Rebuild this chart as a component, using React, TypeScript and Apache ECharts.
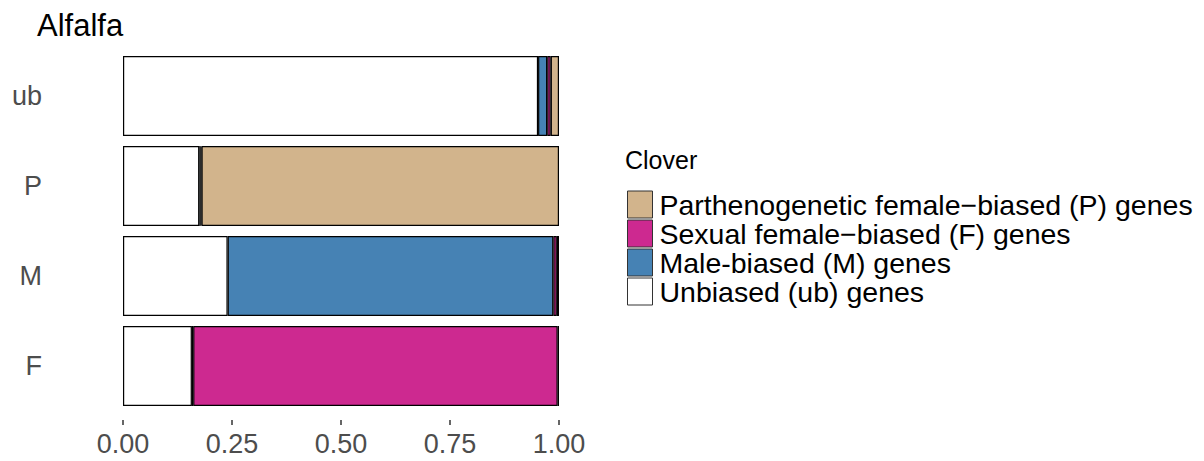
import React, { useEffect, useRef } from "react";
import * as echarts from "echarts";

const categories = ["ub", "P", "M", "F"];
const seriesNames = [
  "Unbiased (ub) genes",
  "Male-biased (M) genes",
  "Sexual female\u2212biased (F) genes",
  "Parthenogenetic female\u2212biased (P) genes",
];
// proportions per category (ub, P, M, F rows)
const ubValues = [0.952, 0.175, 0.24, 0.158];
const mValues = [0.021, 0.003, 0.747, 0.003];
const fValues = [0.008, 0.002, 0.008, 0.836];
const pValues = [0.019, 0.82, 0.005, 0.003];
const colors = ["#FFFFFF", "#4682B4", "#CD2990", "#D2B48C"];
const legendOrder = [3, 2, 1, 0];
const xTicks = [0, 0.25, 0.5, 0.75, 1];

export default function App() {
  const ref = useRef<HTMLDivElement>(null);
  useEffect(() => {
    if (!ref.current) return;
    const chart = echarts.init(ref.current, null, { renderer: "svg" });
    const values = [ubValues, mValues, fValues, pValues];
    chart.setOption({
      animation: false,
      backgroundColor: "#FFFFFF",
      textStyle: { fontFamily: "Liberation Sans, Arial, sans-serif" },
      title: [
        {
          text: "Alfalfa",
          left: 24,
          top: -3,
          textStyle: { fontSize: 31, fontWeight: "normal", color: "#000000" },
        },
        {
          text: "Clover",
          left: 612,
          top: 134,
          textStyle: { fontSize: 25, fontWeight: "normal", color: "#000000" },
        },
      ],
      legend: {
        orient: "vertical",
        left: 614,
        top: 177,
        itemWidth: 25,
        itemHeight: 27,
        itemGap: 0,
        icon: "rect",
        data: legendOrder.map((i) => seriesNames[i]),
        itemStyle: { borderColor: "#333333", borderWidth: 1 },
        textStyle: {
          fontSize: 28.5,
          lineHeight: 27,
          height: 27,
          color: "#000000",
          padding: [0, 0, 0, 2],
        },
      },
      grid: { left: 115, top: 43, width: 436, height: 360 },
      xAxis: {
        type: "value",
        min: 0,
        max: xTicks[xTicks.length - 1],
        interval: 0.25,
        offset: 9,
        axisLine: { show: false },
        splitLine: { show: false },
        axisTick: { show: true, length: 5, lineStyle: { color: "#333333", width: 1.5 } },
        axisLabel: {
          fontSize: 27,
          color: "#4D4D4D",
          margin: 10,
          formatter: (v: number) => v.toFixed(2),
        },
      },
      yAxis: {
        type: "category",
        data: categories,
        inverse: true,
        axisLine: { show: false },
        axisTick: { show: false },
        splitLine: { show: false },
        axisLabel: { fontSize: 27, color: "#4D4D4D", margin: 81, align: "right" },
      },
      series: seriesNames.map((name, i) => ({
        name,
        type: "bar",
        stack: "total",
        barWidth: 80,
        data: values[i],
        itemStyle: { color: colors[i], borderColor: "#000000", borderWidth: 1.2 },
        emphasis: { disabled: true },
      })),
    });
    return () => chart.dispose();
  }, []);
  return <div ref={ref} style={{ width: 1196, height: 453 }} />;
}
